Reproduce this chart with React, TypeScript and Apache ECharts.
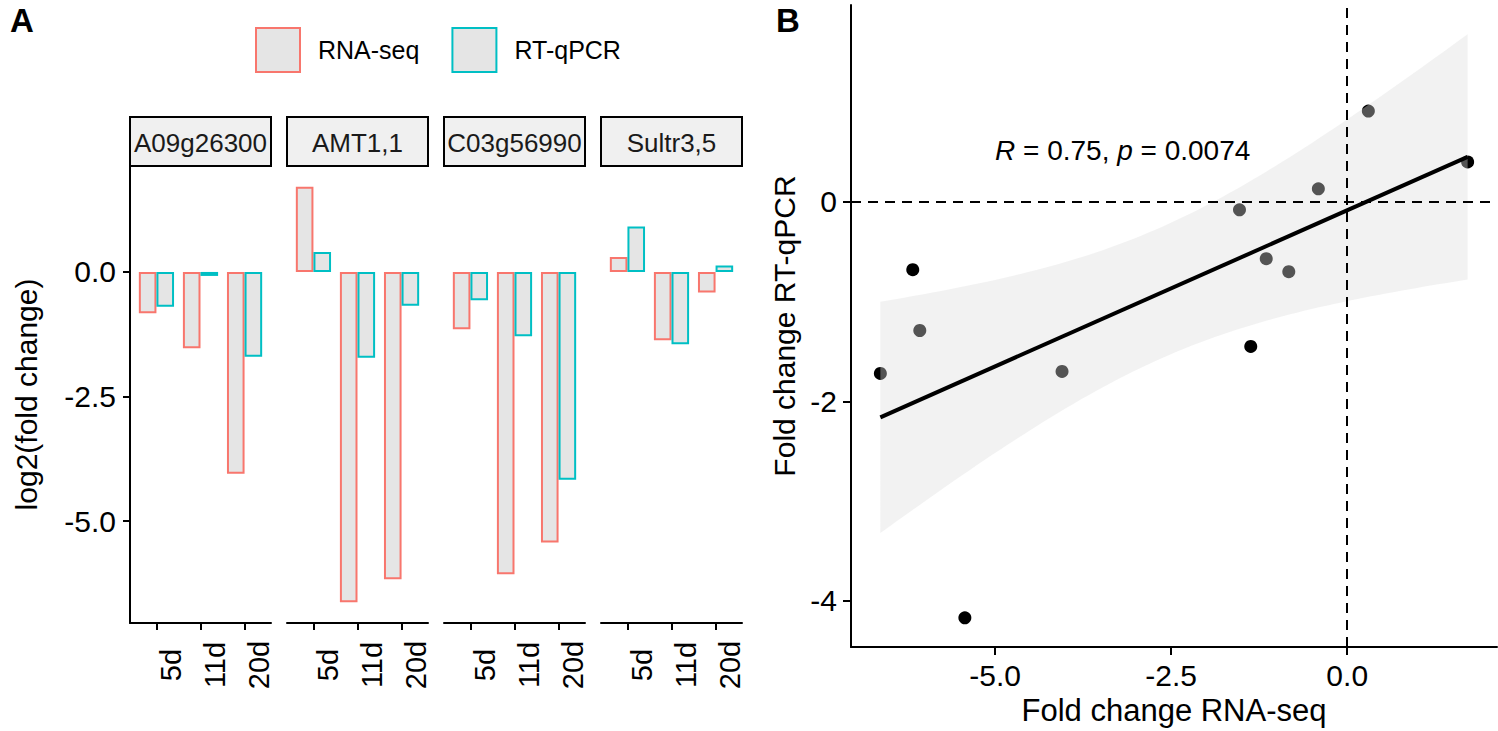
import React, { useEffect, useRef } from 'react';
import * as echarts from 'echarts';

// ---------------- data ----------------
const genes = ['A09g26300', 'AMT1,1', 'C03g56990', 'Sultr3,5'];
const days = ['5d', '11d', '20d'];
const methods = ['RNA-seq', 'RT-qPCR'];
// log2 fold change, per gene, in the order 5d, 11d, 20d
const rnaSeq = [
  [-0.83, -1.53, -4.05],
  [1.71, -6.63, -6.17],
  [-1.15, -6.07, -5.43],
  [0.30, -1.37, -0.41],
];
const rtqPCR = [
  [-0.70, -0.08, -1.70],
  [0.40, -1.72, -0.68],
  [-0.57, -1.29, -4.17],
  [0.91, -1.45, 0.13],
];
const leftTicks = [0, -2.5, -5];
const rightXTicks = [-5, -2.5, 0];
const rightYTicks = [-4, -2, 0];
const corR = '0.75';
const corP = '0.0074';

// ---------------- derived statistics (linear fit, 95% CI) ----------------
const xs = rnaSeq.flat();
const ys = rtqPCR.flat();
const n = xs.length;
const mx = xs.reduce((a, b) => a + b, 0) / n;
const my = ys.reduce((a, b) => a + b, 0) / n;
let sxx = 0, sxy = 0;
xs.forEach((x, k) => { sxx += (x - mx) ** 2; sxy += (x - mx) * (ys[k] - my); });
const slope = sxy / sxx;
const icpt = my - slope * mx;
const fit = (x: number) => icpt + slope * x;
let sse = 0;
xs.forEach((x, k) => { sse += (ys[k] - fit(x)) ** 2; });
const sRes = Math.sqrt(sse / (n - 2));
const tq = 2.228; // t quantile 0.975, df = 10
const xMin = Math.min(...xs);
const xMax = Math.max(...xs);
const band = Array.from({ length: 80 }, (_, i) => {
  const x = xMin + ((xMax - xMin) * i) / 79;
  const se = sRes * Math.sqrt(1 / n + (x - mx) ** 2 / sxx);
  return [x, fit(x) - tq * se, fit(x) + tq * se];
});

const pad = (lo: number, hi: number) => [lo - (hi - lo) * 0.05, hi + (hi - lo) * 0.05];
const allBar = [...xs, ...ys, 0];
const [leftYMin, leftYMax] = pad(Math.min(...allBar), Math.max(...allBar));
const [scX0, scX1] = pad(xMin, xMax);
const [scY0, scY1] = pad(
  Math.min(...ys, ...band.map((b) => b[1])),
  Math.max(...ys, ...band.map((b) => b[2]))
);

// ---------------- layout ----------------
const FONT = "'Liberation Sans', Arial, Helvetica, sans-serif";
const panelLeft = [130, 287, 444, 601];
const panelW = 141;
const panelTop = 166;
const panelBottom = 623;
const stripTop = 117;
const colors = ['#F8766D', '#00BFC4'];
const barFill = '#E5E5E5';

export default function App() {
  const ref = useRef<HTMLDivElement>(null);

  useEffect(() => {
    document.body.style.margin = '0';
    if (!ref.current) return;
    const chart = echarts.init(ref.current, null, { renderer: 'svg' });

    const grids: any[] = panelLeft.map((l) => ({
      left: l, top: panelTop, width: panelW, height: panelBottom - panelTop,
    }));
    grids.push({ left: 851, top: 5, width: 646, height: 642 });

    const axisLine = { show: true, onZero: false, lineStyle: { color: '#000', width: 2 } };
    const tickStyle = { color: '#000', width: 2 };

    const xAxes: any[] = genes.map((_, i) => ({
      type: 'value', gridIndex: i, min: 0.4, max: 3.6,
      splitLine: { show: false },
      axisLine,
      axisTick: { show: true, customValues: [1, 2, 3], length: 7, lineStyle: tickStyle },
      axisLabel: {
        show: true, customValues: [1, 2, 3],
        formatter: (v: number) => days[Math.round(v) - 1],
        rotate: 90, align: 'center', verticalAlign: 'top', margin: 42,
        fontSize: 29, color: '#000', fontFamily: FONT,
      },
    }));
    xAxes.push({
      type: 'value', gridIndex: 4, min: scX0, max: scX1,
      splitLine: { show: false }, axisLine,
      axisTick: { show: true, customValues: rightXTicks, length: 8, lineStyle: tickStyle },
      axisLabel: {
        customValues: rightXTicks, formatter: (v: number) => v.toFixed(1),
        fontSize: 30, color: '#000', margin: 13, fontFamily: FONT,
      },
      name: 'Fold change RNA-seq', nameLocation: 'middle', nameGap: 48,
      nameTextStyle: { fontSize: 31, color: '#000', fontFamily: FONT },
    });

    const yAxes: any[] = genes.map((_, i) => ({
      type: 'value', gridIndex: i, min: leftYMin, max: leftYMax, show: i === 0,
      splitLine: { show: false }, axisLine,
      axisTick: { show: true, customValues: leftTicks, length: 7, lineStyle: tickStyle },
      axisLabel: {
        customValues: leftTicks, formatter: (v: number) => v.toFixed(1),
        fontSize: 30, color: '#000', margin: 14, fontFamily: FONT,
      },
      name: i === 0 ? 'log2(fold change)' : '', nameLocation: 'middle', nameGap: 89,
      nameTextStyle: { fontSize: 30, color: '#000', fontFamily: FONT },
    }));
    yAxes.push({
      type: 'value', gridIndex: 4, min: scY0, max: scY1,
      splitLine: { show: false }, axisLine,
      axisTick: { show: true, customValues: rightYTicks, length: 8, lineStyle: tickStyle },
      axisLabel: {
        customValues: rightYTicks, formatter: (v: number) => String(v),
        fontSize: 30, color: '#000', margin: 14, fontFamily: FONT,
      },
      name: 'Fold change RT-qPCR', nameLocation: 'middle', nameGap: 52,
      nameTextStyle: { fontSize: 30, color: '#000', fontFamily: FONT },
    });

    const series: any[] = [];
    genes.forEach((_, i) => {
      [rnaSeq, rtqPCR].forEach((vals, m) => {
        series.push({
          type: 'bar', name: methods[m], xAxisIndex: i, yAxisIndex: i,
          data: vals[i].map((v, j) => [j + 1, v]),
          barWidth: 17.6, barGap: '0%',
          itemStyle: { color: barFill, borderColor: colors[m], borderWidth: 2 },
        });
      });
    });

    series.push({
      type: 'scatter', xAxisIndex: 4, yAxisIndex: 4,
      data: xs.map((x, k) => [x, ys[k]]),
      symbolSize: 13, itemStyle: { color: '#000', opacity: 1 }, z: 2,
    });
    series.push({
      type: 'custom', xAxisIndex: 4, yAxisIndex: 4, silent: true, z: 3,
      data: [[band[0][0], band[0][1]]],
      renderItem: (_p: any, api: any) => {
        const upper = band.map((b) => api.coord([b[0], b[2]]));
        const lower = band.slice().reverse().map((b) => api.coord([b[0], b[1]]));
        return {
          type: 'polygon',
          shape: { points: upper.concat(lower) },
          style: { fill: 'rgba(222,222,222,0.38)' },
        };
      },
    });
    series.push({
      type: 'line', xAxisIndex: 4, yAxisIndex: 4, z: 4,
      data: [[xMin, fit(xMin)], [xMax, fit(xMax)]],
      symbol: 'none', lineStyle: { color: '#000', width: 4 },
      markLine: {
        silent: true, symbol: 'none', label: { show: false },
        lineStyle: { color: '#000', width: 2, type: [10, 7] },
        data: [{ yAxis: 0 }, { xAxis: 0 }],
      },
    });

    const graphic: any[] = [];
    genes.forEach((g, i) => {
      graphic.push({
        type: 'rect',
        shape: { x: panelLeft[i], y: stripTop, width: panelW, height: panelTop - stripTop },
        style: { fill: '#F0F0F0', stroke: '#000', lineWidth: 2 },
      });
      graphic.push({
        type: 'text', x: panelLeft[i] + panelW / 2, y: (stripTop + panelTop) / 2 + 1,
        style: {
          text: g, fontSize: 26, fontFamily: FONT, fill: '#1A1A1A',
          align: 'center', verticalAlign: 'middle',
        },
      });
    });
    graphic.push({
      type: 'text', x: 10, y: 20,
      style: { text: 'A', fontSize: 33, fontWeight: 'bold', fontFamily: FONT, fill: '#000', verticalAlign: 'middle' },
    });
    graphic.push({
      type: 'text', x: 776, y: 20,
      style: { text: 'B', fontSize: 33, fontWeight: 'bold', fontFamily: FONT, fill: '#000', verticalAlign: 'middle' },
    });
    graphic.push({
      type: 'text', x: 995, y: 150,
      style: {
        text: `{i|R} = ${corR}, {i|p} = ${corP}`,
        fontSize: 28, fontFamily: FONT, fill: '#000', verticalAlign: 'middle',
        rich: { i: { fontStyle: 'italic', fontSize: 28, fontFamily: FONT, fill: '#000' } },
      },
    });

    chart.setOption({
      animation: false,
      textStyle: { fontFamily: FONT },
      grid: grids,
      xAxis: xAxes,
      yAxis: yAxes,
      legend: {
        left: 250, top: 22, itemWidth: 44, itemHeight: 44, itemGap: 32, icon: 'rect',
        selectedMode: false,
        data: methods.map((m, k) => ({
          name: m,
          itemStyle: { color: barFill, borderColor: colors[k], borderWidth: 2 },
        })),
        textStyle: { fontSize: 25, color: '#000', fontFamily: FONT, padding: [0, 0, 0, 13] },
      },
      series,
      graphic,
    });

    return () => chart.dispose();
  }, []);

  return <div ref={ref} style={{ width: 1498, height: 731 }} />;
}
